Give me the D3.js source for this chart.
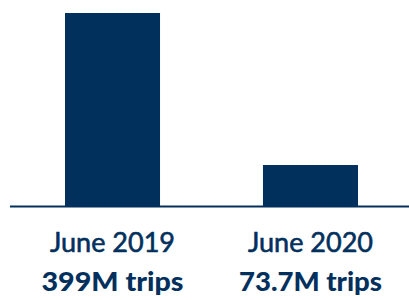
<!DOCTYPE html>
<html>
<head>
<meta charset="utf-8">
<script src="https://cdn.jsdelivr.net/npm/d3@7"></script>
<style>
html,body{margin:0;padding:0;background:#fff;}
svg{display:block;}
</style>
</head>
<body>
<svg id="chart" width="409" height="300"></svg>
<script>
const categories = ["June 2019", "June 2020"];
const values = [399, 73.7];
const valueLabels = ["399M trips", "73.7M trips"];

const color = "#02305d";
const svg = d3.select("#chart");

const x = d3.scaleBand().domain(categories).range([14, 409])
  .paddingInner(0.52).paddingOuter(0.2576);
const y = d3.scaleLinear().domain([-14, 399]).range([206, 13]);

svg.selectAll("rect.bar").data(categories).join("rect")
  .attr("class", "bar")
  .attr("x", d => x(d))
  .attr("width", x.bandwidth())
  .attr("y", (d, i) => y(values[i]))
  .attr("height", (d, i) => y(-14) - y(values[i]))
  .attr("fill", color);

svg.append("line")
  .attr("x1", 10).attr("x2", 409)
  .attr("y1", 206.5).attr("y2", 206.5)
  .attr("stroke", color).attr("stroke-width", 2.2);

svg.selectAll("text.cat").data(categories).join("text")
  .attr("class", "cat")
  .attr("x", d => x(d) + x.bandwidth() / 2)
  .attr("y", 252)
  .attr("text-anchor", "middle")
  .attr("font-family", "Lato, sans-serif")
  .attr("font-size", 27)
  .attr("fill", color)
  .attr("stroke", color)
  .attr("stroke-width", 0.6)
  .text(d => d);

svg.selectAll("text.val").data(categories).join("text")
  .attr("class", "val")
  .attr("x", d => x(d) + x.bandwidth() / 2)
  .attr("y", 291)
  .attr("text-anchor", "middle")
  .attr("font-family", "Lato, sans-serif")
  .attr("font-weight", 900)
  .attr("font-size", 27)
  .attr("fill", color)
  .attr("textLength", (d, i) => i === 0 ? 142 : 143)
  .attr("lengthAdjust", "spacingAndGlyphs")
  .text((d, i) => valueLabels[i]);
</script>
</body>
</html>
